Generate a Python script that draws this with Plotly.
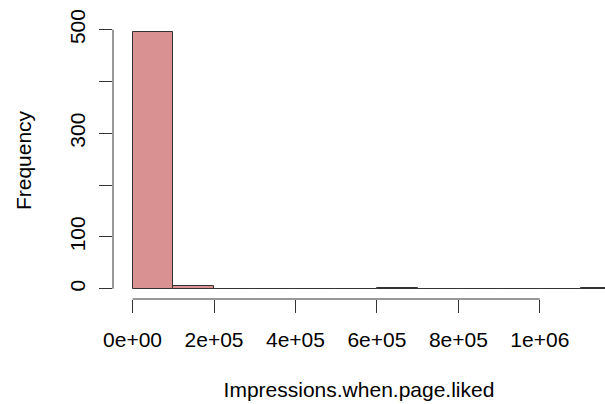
import plotly.graph_objects as go

# Histogram bins (width 1e5) and their counts
bin_starts = [i * 100000 for i in range(12)]
counts = [495, 5, 0, 0, 0, 0, 1, 0, 0, 0, 0, 1]
bin_width = 100000

x_ticks = [0, 200000, 400000, 600000, 800000, 1000000]
x_tick_text = ["0e+00", "2e+05", "4e+05", "6e+05", "8e+05", "1e+06"]
y_ticks = [0, 100, 200, 300, 400, 500]
y_tick_text = ["0", "100", "", "300", "", "500"]

FONT = "Liberation Sans, Arial, sans-serif"

fig = go.Figure()
fig.add_trace(go.Bar(
    x=[s + bin_width / 2 for s in bin_starts],
    y=counts,
    width=[bin_width] * len(bin_starts),
    marker=dict(color="rgb(217,145,145)", line=dict(color="#333333", width=1)),
    hoverinfo="skip",
))

# R-style axis lines spanning only the tick range
fig.add_shape(type="line", xref="x", yref="paper", x0=x_ticks[0], x1=x_ticks[-1], y0=0, y1=0,
              line=dict(color="#333333", width=1))
fig.add_shape(type="line", xref="paper", yref="y", x0=0, x1=0, y0=y_ticks[0], y1=y_ticks[-1],
              line=dict(color="#333333", width=1))

fig.update_layout(
    width=605, height=404,
    margin=dict(l=113, r=0, t=22, b=105),
    paper_bgcolor="white", plot_bgcolor="white",
    showlegend=False, bargap=0,
    font=dict(family=FONT, size=21, color="black"),
    xaxis=dict(
        range=[-48000, 1160000], showgrid=False, zeroline=False, showline=False,
        tickmode="array", tickvals=x_ticks, ticktext=x_tick_text,
        ticks="outside", ticklen=13, tickcolor="#333333", tickwidth=1,
        tickfont=dict(size=21), ticklabelstandoff=9,
        title=dict(text="Impressions.when.page.liked", standoff=32, font=dict(size=21)),
    ),
    yaxis=dict(
        range=[-19.8, 514.8], showgrid=False, zeroline=False, showline=False,
        tickmode="array", tickvals=y_ticks, ticktext=y_tick_text, tickangle=-90,
        ticks="outside", ticklen=13, tickcolor="#333333", tickwidth=1,
        tickfont=dict(size=21), ticklabelstandoff=6,
        title=dict(text="Frequency", standoff=28, font=dict(size=21)),
    ),
)

fig.write_html("out.html")
